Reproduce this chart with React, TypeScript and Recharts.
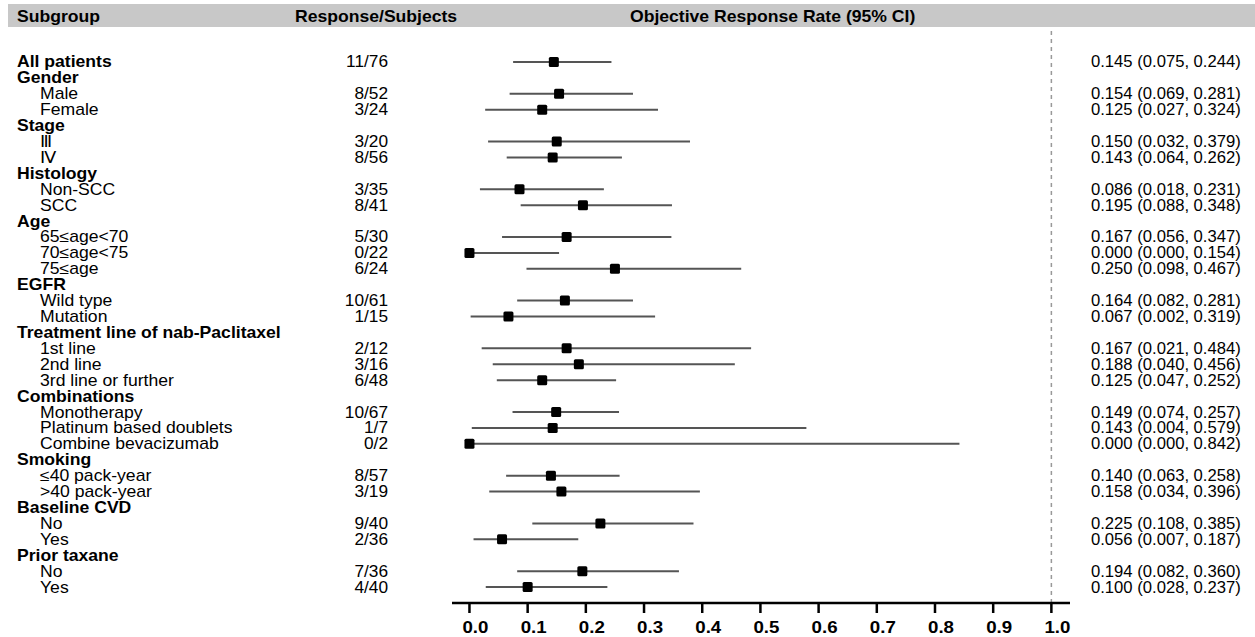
import { ScatterChart, Scatter, XAxis, YAxis, ErrorBar, ReferenceLine, Customized } from 'recharts';

const labels = [
  'All patients', 'Gender', 'Male', 'Female', 'Stage', 'Ⅲ', 'Ⅳ', 'Histology', 'Non-SCC', 'SCC',
  'Age', '65≤age<70', '70≤age<75', '75≤age', 'EGFR', 'Wild type', 'Mutation',
  'Treatment line of nab-Paclitaxel', '1st line', '2nd line', '3rd line or further',
  'Combinations', 'Monotherapy', 'Platinum based doublets', 'Combine bevacizumab',
  'Smoking', '≤40 pack-year', '>40 pack-year', 'Baseline CVD', 'No', 'Yes',
  'Prior taxane', 'No', 'Yes',
];

const headings = [0, 1, 4, 7, 10, 14, 17, 21, 25, 28, 31];

const responses = [
  '11/76', '', '8/52', '3/24', '', '3/20', '8/56', '', '3/35', '8/41',
  '', '5/30', '0/22', '6/24', '', '10/61', '1/15',
  '', '2/12', '3/16', '6/48',
  '', '10/67', '1/7', '0/2',
  '', '8/57', '3/19', '', '9/40', '2/36',
  '', '7/36', '4/40',
];

const estimates = [
  0.145, null, 0.154, 0.125, null, 0.150, 0.143, null, 0.086, 0.195,
  null, 0.167, 0.000, 0.250, null, 0.164, 0.067,
  null, 0.167, 0.188, 0.125,
  null, 0.149, 0.143, 0.000,
  null, 0.140, 0.158, null, 0.225, 0.056,
  null, 0.194, 0.100,
];

const lowers = [
  0.075, null, 0.069, 0.027, null, 0.032, 0.064, null, 0.018, 0.088,
  null, 0.056, 0.000, 0.098, null, 0.082, 0.002,
  null, 0.021, 0.040, 0.047,
  null, 0.074, 0.004, 0.000,
  null, 0.063, 0.034, null, 0.108, 0.007,
  null, 0.082, 0.028,
];

const uppers = [
  0.244, null, 0.281, 0.324, null, 0.379, 0.262, null, 0.231, 0.348,
  null, 0.347, 0.154, 0.467, null, 0.281, 0.319,
  null, 0.484, 0.456, 0.252,
  null, 0.257, 0.579, 0.842,
  null, 0.258, 0.396, null, 0.385, 0.187,
  null, 0.360, 0.237,
];

const xTicks = [0, 0.1, 0.2, 0.3, 0.4, 0.5, 0.6, 0.7, 0.8, 0.9, 1.0];

const FONT = '"Liberation Sans", Arial, sans-serif';

const rowIndex = labels.map((_, i) => i);

const data = rowIndex
  .filter((i) => estimates[i] !== null)
  .map((i) => ({
    row: i,
    est: estimates[i] as number,
    err: [(estimates[i] as number) - (lowers[i] as number), (uppers[i] as number) - (estimates[i] as number)],
  }));

function fmt(v: number | null) {
  return v === null ? '' : v.toFixed(3);
}

function RowTick(props: any) {
  const { y, payload } = props;
  const i = payload.value as number;
  const isHead = headings.includes(i);
  const hasCi = estimates[i] !== null;
  return (
    <g fontFamily={FONT} fontSize={16} fill="#000">
      <text
        transform={`translate(${isHead ? 17 : 40},${y + 5.5}) scale(1.1,1)`}
        fontWeight={isHead ? 'bold' : 'normal'}
        fill="#000"
      >
        {labels[i]}
      </text>
      {responses[i] && (
        <text transform={`translate(388,${y + 5.5}) scale(1.08,1)`} textAnchor="end" fill="#000">
          {responses[i]}
        </text>
      )}
      {hasCi && (
        <text transform={`translate(1091,${y + 5.5}) scale(1.04,1)`} fill="#000">
          {`${fmt(estimates[i])} (${fmt(lowers[i])}, ${fmt(uppers[i])})`}
        </text>
      )}
    </g>
  );
}

function XTick(props: any) {
  const { x, y, payload } = props;
  return (
    <text
      transform={`translate(${x + 6},${y + 18}) scale(1.17,1)`}
      textAnchor="middle"
      fontFamily={FONT}
      fontSize={16}
      fontWeight="bold"
      fill="#000"
    >
      {Number(payload.value).toFixed(1)}
    </text>
  );
}

function Header() {
  return (
    <g fontFamily={FONT} fontSize={16} fontWeight="bold" fill="#000">
      <rect x={8} y={4} width={1247} height={23} fill="#c8c8c8" />
      <text transform="translate(17,22) scale(1.1,1)">Subgroup</text>
      <text transform="translate(295,22) scale(1.1,1)">Response/Subjects</text>
      <text transform="translate(630,22) scale(1.1,1)">Objective Response Rate (95% CI)</text>
    </g>
  );
}

function SquareDot(props: any) {
  const { cx, cy } = props;
  return <rect x={cx - 5} y={cy - 5} width={10} height={10} rx={1.5} fill="#000" />;
}

export default function App() {
  return (
    <div style={{ position: 'absolute', left: 0, top: 0, background: '#fff' }}>
      <ScatterChart width={1255} height={637} margin={{ top: 28, right: 185, bottom: 0, left: 0 }}>
        <Customized component={Header} />
        <XAxis
          type="number"
          dataKey="est"
          domain={[-0.03, 1.032]}
          ticks={xTicks}
          interval={0}
          allowDataOverflow
          height={34}
          axisLine={{ stroke: '#000', strokeWidth: 2.5 }}
          tickLine={{ stroke: '#000', strokeWidth: 2.5 }}
          tickSize={10}
          tick={<XTick />}
        />
        <YAxis
          type="number"
          dataKey="row"
          domain={[-2.13, 34]}
          ticks={rowIndex}
          interval={0}
          reversed
          allowDataOverflow
          width={452}
          axisLine={false}
          tickLine={false}
          tick={<RowTick />}
        />
        <ReferenceLine x={1} stroke="#999" strokeWidth={1.5} strokeDasharray="4 4" />
        <Scatter data={data} shape={<SquareDot />} isAnimationActive={false}>
          <ErrorBar dataKey="err" direction="x" width={0} stroke="#555" strokeWidth={2} isAnimationActive={false} />
        </Scatter>
      </ScatterChart>
    </div>
  );
}
